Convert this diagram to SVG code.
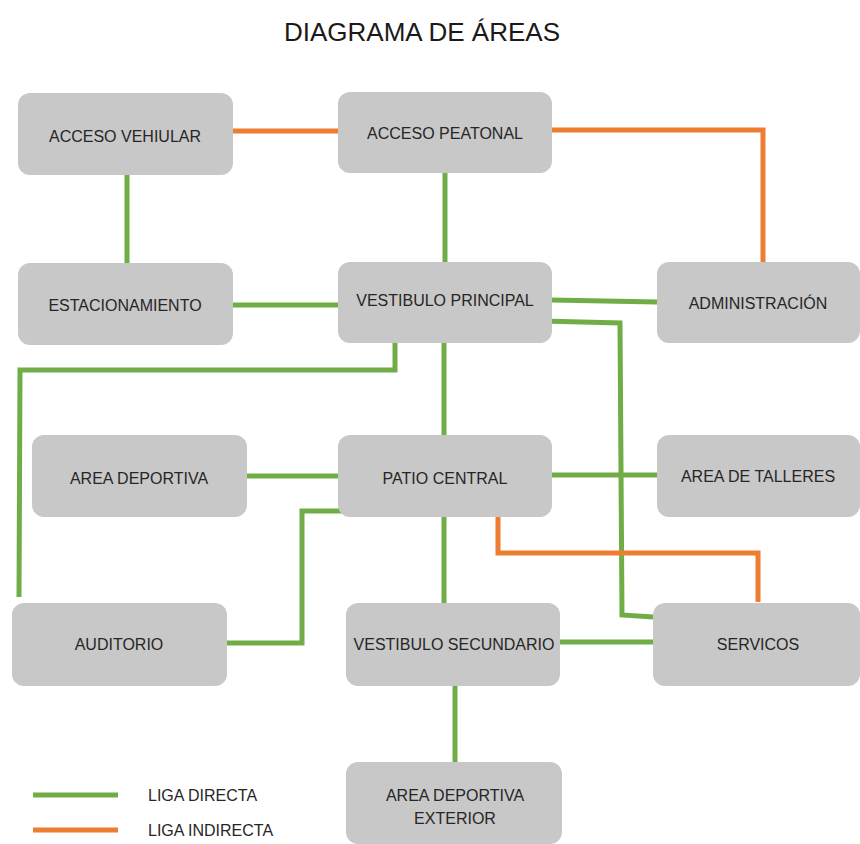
<svg xmlns="http://www.w3.org/2000/svg" width="860" height="844" viewBox="0 0 860 844">
<style>
.box{fill:#c8c8c8}
.lbl{font-family:"Liberation Sans",Arial,sans-serif;font-size:16px;fill:#262626;text-anchor:middle}
.title{font-family:"Liberation Sans",Arial,sans-serif;font-size:26px;fill:#1a1a1a;text-anchor:middle}
.g{fill:none;stroke:#70ad47;stroke-width:5}
.o{fill:none;stroke:#ed7d31;stroke-width:5}
</style>
<rect width="860" height="844" fill="#ffffff"/>
<text class="title" x="422" y="41">DIAGRAMA DE ÁREAS</text>
<g id="connectors">
<path class="o" d="M233 131 L338 131"/>
<path class="g" d="M127 175 L127 263"/>
<path class="g" d="M233 305 L338 305"/>
<path class="g" d="M445 173 L445 262"/>
<path class="o" d="M552 130 L763 130 L763 262"/>
<path class="g" d="M552 300 L657 302"/>
<path class="g" d="M542 321 L620 323 L622 615 L653 617"/>
<path class="g" d="M395 343 L395 370 L20 370 L19 597"/>
<path class="g" d="M444 343 L444 435"/>
<path class="g" d="M247 476 L338 476"/>
<path class="g" d="M552 475 L657 475"/>
<path class="g" d="M342 511 L302 511 L302 643 L227 643"/>
<path class="g" d="M444 517 L444 603"/>
<path class="o" d="M498 512 L498 553 L758 553 L758 602"/>
<path class="g" d="M555 642 L653 642"/>
<path class="g" d="M455 686 L455 762"/>
</g>
<g id="acceso-vehiular"><rect class="box" x="18" y="93" width="215" height="82" rx="12"/><text class="lbl" x="125" y="142">ACCESO VEHIULAR</text></g>
<g id="acceso-peatonal"><rect class="box" x="338" y="92" width="214" height="81" rx="12"/><text class="lbl" x="445" y="139">ACCESO PEATONAL</text></g>
<g id="estacionamiento"><rect class="box" x="18" y="263" width="215" height="82" rx="12"/><text class="lbl" x="125" y="311">ESTACIONAMIENTO</text></g>
<g id="vestibulo-principal"><rect class="box" x="338" y="262" width="214" height="81" rx="12"/><text class="lbl" x="445" y="306">VESTIBULO PRINCIPAL</text></g>
<g id="administracion"><rect class="box" x="657" y="262" width="203" height="81" rx="12"/><text class="lbl" x="758" y="309">ADMINISTRACIÓN</text></g>
<g id="area-deportiva"><rect class="box" x="32" y="435" width="215" height="82" rx="12"/><text class="lbl" x="139" y="484">AREA DEPORTIVA</text></g>
<g id="patio-central"><rect class="box" x="338" y="435" width="214" height="82" rx="12"/><text class="lbl" x="445" y="484">PATIO CENTRAL</text></g>
<g id="area-talleres"><rect class="box" x="657" y="435" width="203" height="82" rx="12"/><text class="lbl" x="758" y="482">AREA DE TALLERES</text></g>
<g id="auditorio"><rect class="box" x="12" y="603" width="215" height="83" rx="12"/><text class="lbl" x="119" y="650">AUDITORIO</text></g>
<g id="vestibulo-secundario"><rect class="box" x="346" y="603" width="214" height="83" rx="12"/><text class="lbl" x="454" y="650">VESTIBULO SECUNDARIO</text></g>
<g id="servicos"><rect class="box" x="653" y="603" width="207" height="83" rx="12"/><text class="lbl" x="758" y="650">SERVICOS</text></g>
<g id="area-deportiva-exterior"><rect class="box" x="346" y="762" width="216" height="82" rx="12"/><text class="lbl" x="455" y="801">AREA DEPORTIVA</text><text class="lbl" x="455" y="824">EXTERIOR</text></g>
<g id="legend">
<path class="g" d="M33 795 L118 795"/>
<path class="o" d="M33 830 L118 830"/>
<text class="lbl" x="148" y="801" style="text-anchor:start">LIGA DIRECTA</text>
<text class="lbl" x="148" y="836" style="text-anchor:start">LIGA INDIRECTA</text>
</g>
</svg>
